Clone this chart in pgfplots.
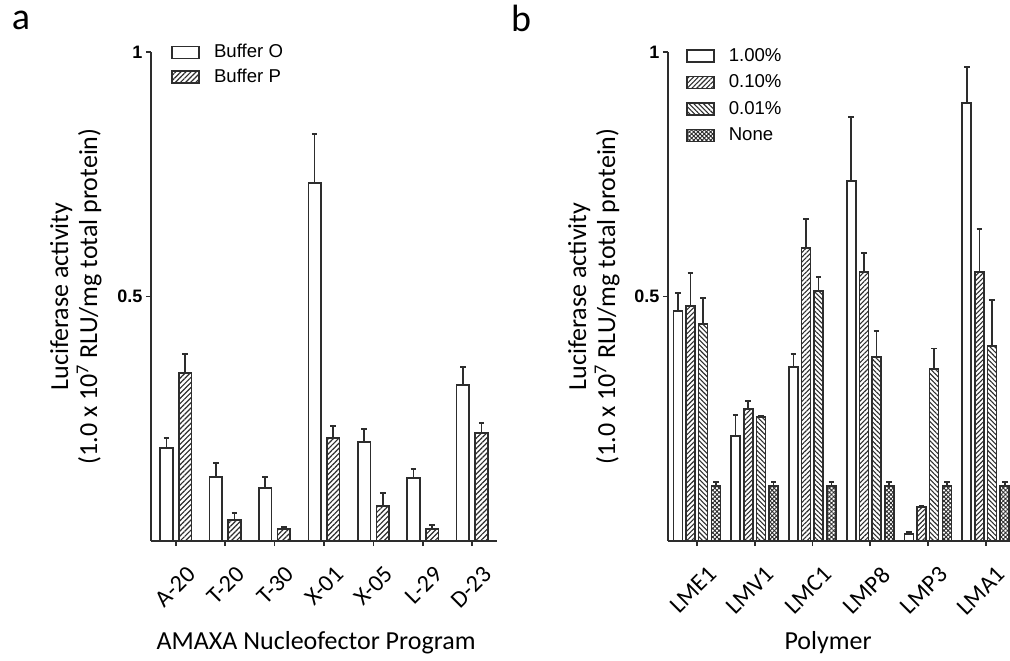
\documentclass[border=0pt]{standalone}
\usepackage{fontspec}
\setmainfont{Carlito}
\newfontfamily\arial{Liberation Sans}
\usepackage{pgfplots}
\pgfplotsset{compat=1.18}
\usetikzlibrary{patterns.meta}

\definecolor{ink}{RGB}{45,45,45}

\pgfplotsset{
  panel/.style={
    scale only axis,
    height=244.5pt,
    ymin=0, ymax=1,
    ytick={0.5,1},
    axis x line=bottom, axis y line=left,
    axis line style={-, line width=0.9pt, ink},
    tick style={line width=0.9pt, ink},
    tick align=outside, major tick length=2.6pt,
    /pgf/number format/assume math mode=true,
    yticklabel style={font=\arial\bfseries\fontsize{9}{10}\selectfont, inner sep=1.5pt},
    xticklabel style={rotate=45, anchor=north east, inner sep=1pt,
      yshift=-9pt, xshift=-2pt, font=\fontsize{12}{13}\selectfont},
    xlabel style={anchor=center, font=\fontsize{13}{15}\selectfont},
    ylabel style={at={(axis description cs:-0.217,0.5)}, anchor=center, align=center,
      font=\fontsize{13}{14.5}\selectfont},
    ylabel={Luciferase activity\\(1.0 x 10\textsuperscript{7} RLU/mg total protein)},
    ybar,
    legend cell align=left,
    legend image code/.code={\draw[#1, line width=0.8pt] (0pt,-3pt) rectangle (13.5pt,3pt);},
    error bars/y dir=plus, error bars/y explicit,
    error bars/error bar style={line width=0.8pt, ink},
    error bars/error mark options={line width=0.8pt, ink, mark size=1.4pt, rotate=90},
  },
  barstyle/.style={draw=ink, line width=0.8pt},
}

\begin{document}
\begin{tikzpicture}
\useasboundingbox (0,0) rectangle (505pt,330pt);

\node[font=\fontsize{19}{21}\selectfont] at (10.5pt,320pt) {a};
\node[font=\fontsize{19}{21}\selectfont] at (260.5pt,321pt) {b};

% panel a
\begin{axis}[panel,
  at={(75.5pt,59.5pt)}, anchor=south west,
  width=173pt,
  xmin=-0.5, xmax=6.5,
  xtick={0,...,6},
  xticklabels={A-20,T-20,T-30,X-01,X-05,L-29,D-23},
  xlabel={AMAXA Nucleofector Program},
  xlabel style={at={(axis description cs:0.477,-0.207)}},
  bar width=6.3pt,
  legend style={draw=none, fill=none, inner sep=0pt, row sep=2.2pt, column sep=6pt,
    nodes={inner sep=1pt},
    at={(rel axis cs:0.058,1.021)}, anchor=north west,
    font=\arial\fontsize{9.3}{11}\selectfont},
]
\addplot[barstyle, fill=white, bar shift=-4.65pt] coordinates {
 (0,0.190) +- (0,0.021)  (1,0.131) +- (0,0.029)  (2,0.108) +- (0,0.023)
 (3,0.732) +- (0,0.100)  (4,0.202) +- (0,0.027)  (5,0.129) +- (0,0.018)
 (6,0.319) +- (0,0.037)};
\addplot[barstyle, fill=white, pattern={Lines[angle=45,distance=1.8pt,line width=0.6pt]},
  pattern color=ink, bar shift=4.65pt] coordinates {
 (0,0.343) +- (0,0.039)  (1,0.043) +- (0,0.014)  (2,0.025) +- (0,0.004)
 (3,0.211) +- (0,0.024)  (4,0.072) +- (0,0.026)  (5,0.025) +- (0,0.008)
 (6,0.221) +- (0,0.020)};
\legend{Buffer O, Buffer P}
\end{axis}

% panel b
\begin{axis}[panel,
  at={(334pt,59.5pt)}, anchor=south west,
  width=171pt,
  xmin=-0.5, xmax=5.42,
  xtick={0,...,5},
  xticklabels={LME1,LMV1,LMC1,LMP8,LMP3,LMA1},
  xlabel={Polymer},
  xlabel style={at={(axis description cs:0.468,-0.207)}},
  bar width=4.5pt,
  legend style={draw=none, fill=none, inner sep=0pt, row sep=3.2pt, column sep=6pt,
    nodes={inner sep=1pt},
    at={(rel axis cs:0.052,1.0125)}, anchor=north west,
    font=\arial\fontsize{9.3}{11}\selectfont},
]
\addplot[barstyle, fill=white, bar shift=-9.5pt] coordinates {
 (0,0.470) +- (0,0.037)  (1,0.215) +- (0,0.043)  (2,0.356) +- (0,0.026)
 (3,0.736) +- (0,0.131)  (4,0.014) +- (0,0.004)  (5,0.896) +- (0,0.073)};
\addplot[barstyle, pattern={Lines[angle=45,distance=1.7pt,line width=0.55pt]},
  pattern color=ink, bar shift=-3.2pt] coordinates {
 (0,0.481) +- (0,0.067)  (1,0.270) +- (0,0.016)  (2,0.599) +- (0,0.059)
 (3,0.550) +- (0,0.039)  (4,0.070) +- (0,0.003)  (5,0.550) +- (0,0.088)};
\addplot[barstyle, pattern={Lines[angle=-45,distance=1.7pt,line width=0.55pt]},
  pattern color=ink, bar shift=3.1pt] coordinates {
 (0,0.444) +- (0,0.053)  (1,0.254) +- (0,0.002)  (2,0.511) +- (0,0.029)
 (3,0.376) +- (0,0.053)  (4,0.352) +- (0,0.042)  (5,0.399) +- (0,0.094)};
\addplot[barstyle, pattern={Hatch[angle=45,distance=1.5pt,line width=0.45pt]},
  pattern color=ink, bar shift=9.5pt] coordinates {
 (0,0.112) +- (0,0.009)  (1,0.112) +- (0,0.009)  (2,0.112) +- (0,0.009)
 (3,0.112) +- (0,0.009)  (4,0.112) +- (0,0.009)  (5,0.112) +- (0,0.009)};
\legend{1.00\%, 0.10\%, 0.01\%, None}
\end{axis}
\end{tikzpicture}
\end{document}
